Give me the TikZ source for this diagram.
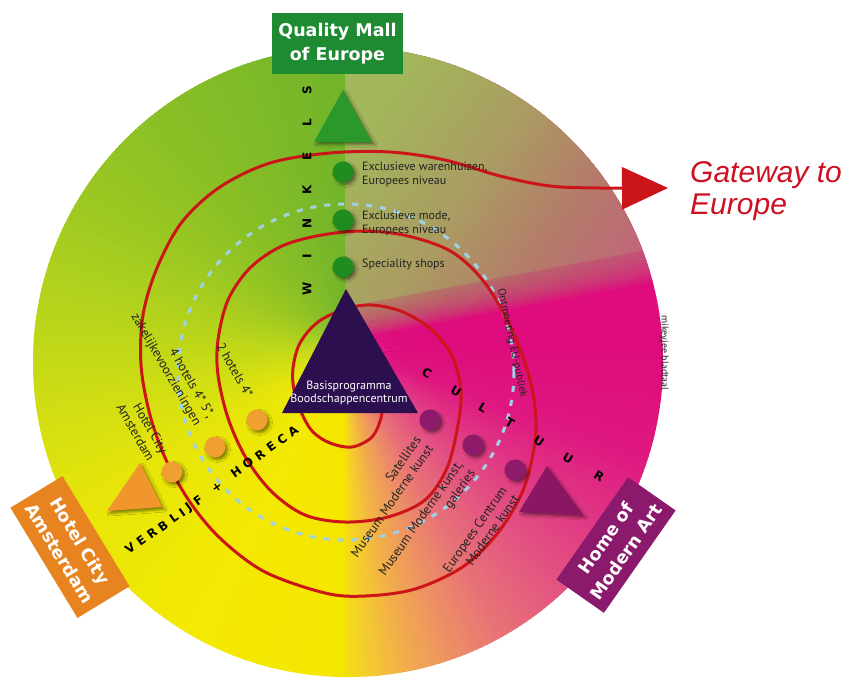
\documentclass[tikz,border=0pt]{standalone}
\usepackage{fontspec}
\setmainfont{PT Sans}
\newfontfamily\boxfont{DejaVu Sans}
\newfontfamily\gatefont{Liberation Sans}
\usetikzlibrary{arrows.meta,shadows.blur}

% disk colours, by bearing round the centre
\definecolor{cM}{HTML}{DE0C7C}
\definecolor{cR1}{HTML}{DF1880}
\definecolor{cR2}{HTML}{E03884}
\definecolor{cR3}{HTML}{E35880}
\definecolor{cR4}{HTML}{E87476}
\definecolor{cR5}{HTML}{EE9462}
\definecolor{cR6}{HTML}{F2B048}
\definecolor{cR7}{HTML}{F4CC2E}
\definecolor{cR8}{HTML}{F6DE14}
\definecolor{cL0}{HTML}{F5E600}
\definecolor{cL1}{HTML}{F3E902}
\definecolor{cL2}{HTML}{E6E50A}
\definecolor{cL3}{HTML}{CEDD14}
\definecolor{cL4}{HTML}{B4D31C}
\definecolor{cL5}{HTML}{9CC822}
\definecolor{cL6}{HTML}{8BC025}
\definecolor{cL7}{HTML}{7FBA28}
\definecolor{cL8}{HTML}{72B42A}
% upper right sector
\definecolor{olA}{HTML}{A2B85A}
\definecolor{olB}{HTML}{AA9C62}
\definecolor{olC}{HTML}{B47A6A}
\definecolor{olD}{HTML}{C4627C}
\definecolor{olE}{HTML}{D24C88}
% marks and boxes
\definecolor{spiralred}{HTML}{CC1518}
\definecolor{gatered}{HTML}{CC1122}
\definecolor{dashblue}{HTML}{9FD2E6}
\definecolor{dotgreen}{HTML}{1E8C1E}
\definecolor{dotorange}{HTML}{F0A030}
\definecolor{dotpurple}{HTML}{8E1A6A}
\definecolor{trigreen}{HTML}{2A982A}
\definecolor{triorange}{HTML}{F0962C}
\definecolor{tripurple}{HTML}{8A1664}
\definecolor{core}{HTML}{2B0F4F}
\definecolor{mallgreen}{HTML}{1E8A32}
\definecolor{hotelorange}{HTML}{E88420}
\definecolor{artpurple}{HTML}{8C1A6C}
\definecolor{ink}{HTML}{222222}

\pgfdeclarehorizontalshading{olivepink}{100bp}{color(0bp)=(olA); color(25bp)=(olA); color(45bp)=(olB); color(60bp)=(olC); color(75bp)=(olD); color(100bp)=(olE)}

\begin{document}
\begin{tikzpicture}[x=1pt,y=-1pt,
  softshadow/.style={blur shadow={shadow xshift=2.5pt,shadow yshift=-2.5pt,shadow opacity=45,shadow blur radius=2.5pt}},
  dotbase/.style={circle,minimum size=21pt,inner sep=0pt,softshadow},
  gdot/.style={dotbase,fill=dotgreen},
  odot/.style={dotbase,fill=dotorange},
  pdot/.style={dotbase,fill=dotpurple},
  letter/.style={font=\boxfont\bfseries\fontsize{12}{12}\selectfont,text=black,inner sep=0pt},
  shoplabel/.style={anchor=north west,align=left,inner sep=0pt,text=ink,font=\fontsize{12}{14}\selectfont},
  sidelabel/.style={anchor=east,align=right,inner sep=0pt,text=ink,font=\fontsize{13}{15}\selectfont},
  namebox/.style={align=center,inner sep=0pt,text=white,font=\boxfont\bfseries\fontsize{17.5}{24}\selectfont},
  gatetext/.style={anchor=base west,inner sep=0pt,text=gatered,font=\gatefont\itshape\fontsize{30}{32}\selectfont},
  spiral/.style={draw=spiralred,line width=3pt,line join=round,line cap=round},
  dashring/.style={draw=dashblue,line width=3pt,dash pattern=on 6pt off 8pt}
]
\useasboundingbox (0,0) rectangle (850,683);
\coordinate (C) at (345,350);

% ---- coloured disk ----
\begin{scope}
  \clip (348,362) circle[radius=315];
  \foreach \aA/\cA/\aB/\cB in {0/cM/90/cM, 90/cM/110/cR1, 110/cR1/125/cR2, 125/cR2/140/cR3,
      140/cR3/152/cR4, 152/cR4/162/cR5, 162/cR5/170/cR6, 170/cR6/176/cR7, 176/cR7/180/cR8,
      180/cL0/210/cL1, 210/cL1/240/cL2, 240/cL2/260/cL3, 260/cL3/280/cL4, 280/cL4/300/cL5,
      300/cL5/320/cL6, 320/cL6/340/cL7, 340/cL7/360/cL8}{
    \pgfmathtruncatemacro\lastA{\aB-1}
    \foreach \t in {\aA,...,\lastA}{
      \pgfmathtruncatemacro\pct{100*(\t+0.5-\aA)/(\aB-\aA)}
      \colorlet{wc}{\cB!\pct!\cA}
      \fill[wc] (C) -- ++(\t-90:560) arc[start angle=\t-90,end angle=\t-88.5,radius=560] -- cycle;
    }
  }
  % olive to rose sector above the magenta, with a soft lower edge
  \foreach \off in {27,24,...,-3}
    \shade[shading=olivepink,shading angle=-35,fill opacity=0.13]
      (345,30) -- (700,30) -- (700,246+\off) -- (345,313+\off) -- cycle;
  \shade[shading=olivepink,shading angle=-35]
    (345,30) -- (700,30) -- (700,240) -- (345,307) -- cycle;
\end{scope}

% ---- dashed ring ----
\draw[dashring] (346,372) circle[radius=168];

% ---- spiral with arrow ----
\coordinate (gate) at (668,188);
\draw[spiral,-{Triangle[length=46pt,width=42pt]}] plot[smooth,tension=0.55] coordinates {
  (383,398) (381,418) (372,437) (352,447) (330,443) (313,432) (302,414) (294,390)
  (293,368) (300,343) (318,322) (345,309) (372,305) (403,312) (432,330) (452,356)
  (461,390) (458,425) (447,468) (425,500) (388,517) (345,522) (305,515) (272,492)
  (246,458) (228,418) (218,375) (218,340) (228,300) (250,268) (282,246) (322,235)
  (365,231) (408,236) (452,252) (485,283) (512,330) (530,380) (536,430) (525,485)
  (500,530) (464,566) (415,589) (365,596) (325,593) (265,572) (222,540) (192,505)
  (167,462) (150,415) (141,365) (143,315) (157,268) (182,222) (220,187) (270,163)
  (330,153) (390,152) (445,160) (500,176) (550,186) (600,188) (gate)};

% ---- sector triangles ----
\fill[trigreen,softshadow] (343,90) -- (372,142) -- (314,142) -- cycle;
\fill[triorange,softshadow] (140,463) -- (162,507) -- (107,511) -- cycle;
\fill[tripurple,softshadow] (547,466) -- (583,515) -- (519,512) -- cycle;

% ---- dots ----
\node[gdot] (g1) at (343,172) {};
\node[gdot] (g2) at (343,220) {};
\node[gdot] (g3) at (343,267) {};
\node[odot] (o1) at (257,420) {};
\node[odot] (o2) at (215,447) {};
\node[odot] (o3) at (172,472) {};
\node[pdot] (p1) at (430,420) {};
\node[pdot] (p2) at (473,445) {};
\node[pdot] (p3) at (515,470) {};

% ---- core triangle ----
\fill[core] (346,289) -- (418,413) -- (282,413) -- cycle;
\node[align=center,inner sep=0pt,text=white,font=\fontsize{12}{12.5}\selectfont,anchor=north]
  (core) at (349,381) {Basisprogramma\\Boodschappencentrum};

% ---- shop labels ----
\node[shoplabel] (s1) at (362,162) {Exclusieve warenhuizen,\\Europees niveau};
\node[shoplabel] (s2) at (362,211) {Exclusieve mode,\\Europees niveau};
\node[shoplabel] (s3) at (362,259) {Speciality shops};

% ---- hotel labels ----
\node[sidelabel,rotate=-60] (h1) at (250,396) {2 hotels 4*};
\node[sidelabel,rotate=-60] (h2) at (204,421) {4 hotels 4* 5*,\\zakelijkevoorzieningen};
\node[sidelabel,rotate=-60] (h3) at (158,456) {Hotel City\\Amsterdam};

% ---- culture labels ----
\node[sidelabel,rotate=55] (k1) at (424,442) {Satellites\\Museum Moderne kunst};
\node[sidelabel,rotate=55] (k2) at (467,467) {Museum Moderne kunst,\\galeries};
\node[sidelabel,rotate=55] (k3) at (510,492) {Europees Centrum\\Moderne kunst};
\node[inner sep=0pt,text=ink,font=\fontsize{11}{11}\selectfont,rotate=-78] (k4) at (512,343) {Ontmoeting EU-publiek};
\node[inner sep=0pt,text=ink,font=\fontsize{10}{10}\selectfont,rotate=-90] (credit) at (664,353) {mikeyjee bladtaal};

% ---- sector words ----
\foreach \ch/\px/\py [count=\i] in {W/307/289, I/307/256, N/307/223, K/307/190, E/307/156, L/307/123, S/307/90}
  \node[letter,rotate=90] (win\i) at (\px,\py) {\ch};
\foreach \ch/\px/\py [count=\i] in {C/427/373, U/456/391, L/483/408, T/510/423, U/539/441, U/568/458, R/599/476}
  \node[letter,rotate=-31] (cul\i) at (\px,\py) {\ch};
\foreach \ch/\px/\py [count=\i] in {V/130/548, E/141/541, R/152/533, B/163/526, L/174/518, I/182/513, J/189/508, F/198/501,
    +/217/487, H/236/472, O/248/463, R/260/455, E/271/447, C/282/439, A/293/431}
  \node[letter,rotate=36] (hor\i) at (\px,\py) {\ch};

% ---- name boxes ----
\node[namebox,fill=mallgreen,minimum width=131pt,minimum height=61pt] (mall) at (337.5,43.5) {Quality Mall\\of Europe};
\node[namebox,fill=hotelorange,minimum width=129pt,minimum height=61pt,rotate=-58.7] (hotel) at (70,547) {Hotel City\\Amsterdam};
\node[namebox,fill=artpurple,minimum width=125pt,minimum height=58pt,rotate=55] (art) at (616,545) {Home of\\Modern Art};

% ---- gateway caption ----
\node[gatetext] (gw1) at (690,182) {Gateway to};
\node[gatetext] (gw2) at (690,214) {Europe};
\end{tikzpicture}
\end{document}
